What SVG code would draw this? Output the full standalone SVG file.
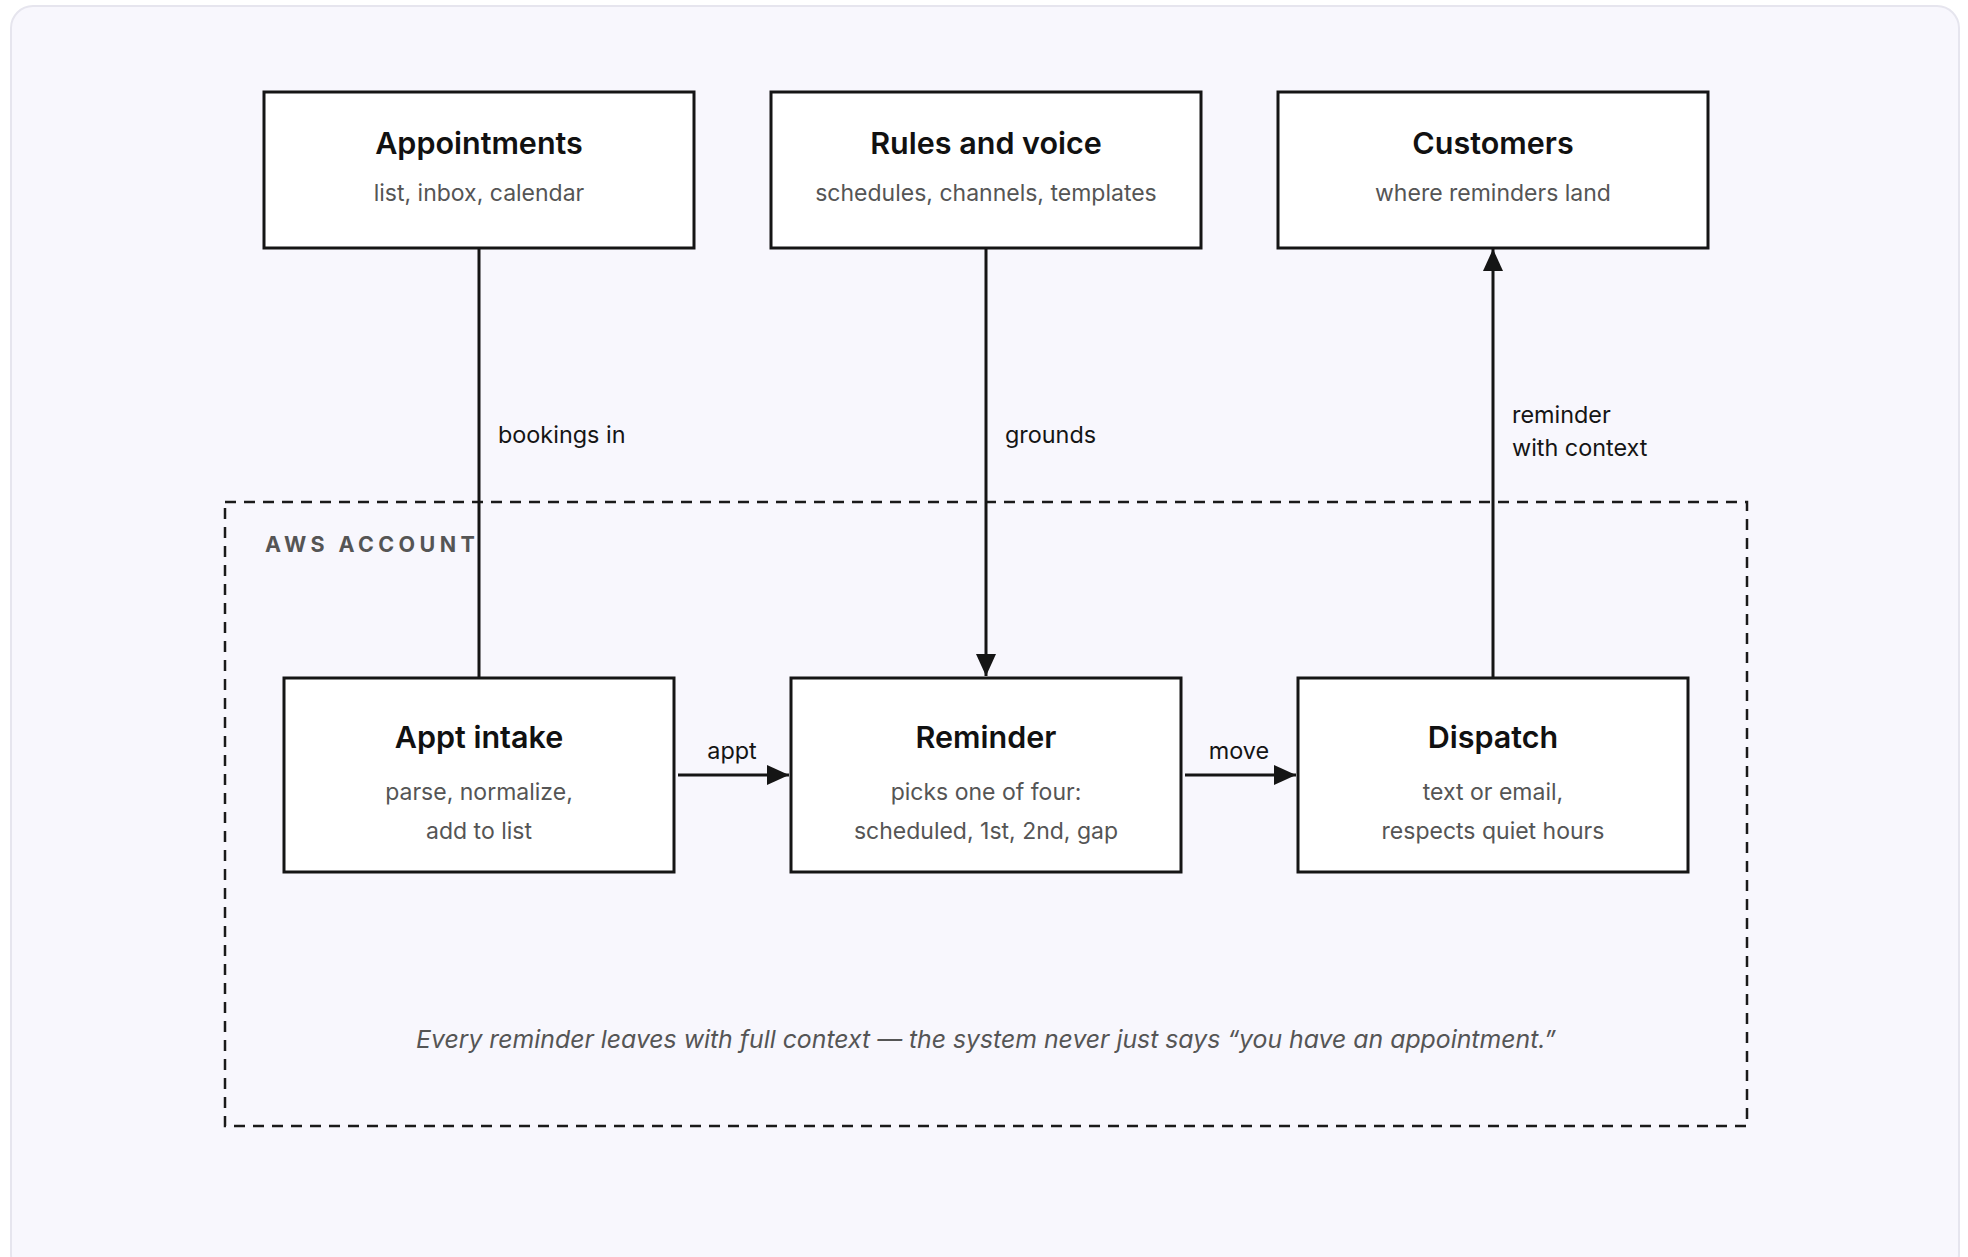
<svg xmlns="http://www.w3.org/2000/svg" width="1968" height="1257" viewBox="0 0 1968 1257">
  <defs>
    <style>
      .card { fill: #f8f7fd; stroke: #e6e5ee; stroke-width: 2; }
      .node rect { fill: #ffffff; stroke: #151515; stroke-width: 3; }
      .title { font-family: Inter, "Noto Sans", sans-serif; font-size: 30.5px; font-weight: 600; fill: #111111; text-anchor: middle; }
      .sub { font-family: Inter, "Noto Sans", sans-serif; font-size: 23px; fill: #555555; text-anchor: middle; }
      .edge { fill: none; stroke: #151515; stroke-width: 3; }
      .elabel { font-family: Inter, "Noto Sans", sans-serif; font-size: 23.4px; fill: #151515; }
      .boundary { fill: none; stroke: #1a1a1a; stroke-width: 2.5; stroke-dasharray: 11 8; }
      .blabel { font-family: Inter, "Noto Sans", sans-serif; font-size: 21.5px; font-weight: 700; letter-spacing: 4.4px; fill: #555555; }
      .caption { font-family: Inter, "Noto Sans", sans-serif; font-size: 24.8px; font-style: italic; fill: #555555; text-anchor: middle; }
    </style>
    <marker id="arrow" viewBox="0 0 22 20" refX="22" refY="10" markerWidth="22" markerHeight="20" markerUnits="userSpaceOnUse" orient="auto">
      <path d="M0,0 L22,10 L0,20 Z" fill="#151515"/>
    </marker>
  </defs>

  <rect width="1968" height="1257" fill="#ffffff"/>
  <rect class="card" x="11" y="6" width="1948" height="1270" rx="22"/>

  <!-- account boundary -->
  <g id="aws-account">
    <rect class="boundary" x="225" y="502" width="1522" height="624"/>
    <text class="blabel" x="265" y="552">AWS ACCOUNT</text>
  </g>

  <!-- connectors -->
  <g id="connectors">
    <line class="edge" x1="479" y1="249" x2="479" y2="678"/>
    <text class="elabel" x="498" y="443">bookings in</text>

    <line class="edge" x1="986" y1="249" x2="986" y2="676" marker-end="url(#arrow)"/>
    <text class="elabel" x="1005" y="443">grounds</text>

    <line class="edge" x1="1493" y1="677" x2="1493" y2="249" marker-end="url(#arrow)"/>
    <text class="elabel" x="1512" y="423">reminder</text>
    <text class="elabel" x="1512" y="456">with context</text>

    <line class="edge" x1="678" y1="775" x2="789" y2="775" marker-end="url(#arrow)"/>
    <text class="elabel" x="732" y="759" text-anchor="middle">appt</text>

    <line class="edge" x1="1185" y1="775" x2="1296" y2="775" marker-end="url(#arrow)"/>
    <text class="elabel" x="1239" y="759" text-anchor="middle">move</text>
  </g>

  <!-- external nodes -->
  <g id="appointments" class="node">
    <rect x="264" y="92" width="430" height="156"/>
    <text class="title" x="479" y="154">Appointments</text>
    <text class="sub" x="479" y="201">list, inbox, calendar</text>
  </g>
  <g id="rules-and-voice" class="node">
    <rect x="771" y="92" width="430" height="156"/>
    <text class="title" x="986" y="154">Rules and voice</text>
    <text class="sub" x="986" y="201">schedules, channels, templates</text>
  </g>
  <g id="customers" class="node">
    <rect x="1278" y="92" width="430" height="156"/>
    <text class="title" x="1493" y="154">Customers</text>
    <text class="sub" x="1493" y="201">where reminders land</text>
  </g>

  <!-- account nodes -->
  <g id="appt-intake" class="node">
    <rect x="284" y="678" width="390" height="194"/>
    <text class="title" x="479" y="748">Appt intake</text>
    <text class="sub" x="479" y="800">parse, normalize,</text>
    <text class="sub" x="479" y="839">add to list</text>
  </g>
  <g id="reminder" class="node">
    <rect x="791" y="678" width="390" height="194"/>
    <text class="title" x="986" y="748">Reminder</text>
    <text class="sub" x="986" y="800">picks one of four:</text>
    <text class="sub" x="986" y="839">scheduled, 1st, 2nd, gap</text>
  </g>
  <g id="dispatch" class="node">
    <rect x="1298" y="678" width="390" height="194"/>
    <text class="title" x="1493" y="748">Dispatch</text>
    <text class="sub" x="1493" y="800">text or email,</text>
    <text class="sub" x="1493" y="839">respects quiet hours</text>
  </g>

  <text class="caption" x="986" y="1048">Every reminder leaves with full context — the system never just says “you have an appointment.”</text>
</svg>
